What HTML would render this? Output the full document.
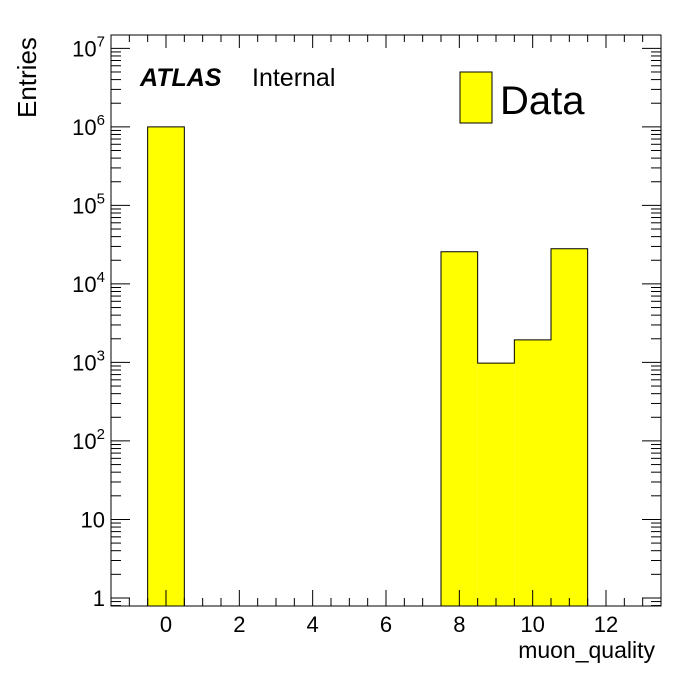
<!DOCTYPE html>
<html><head><meta charset="utf-8">
<style>
html,body{margin:0;padding:0;background:#fff;}
svg text{font-family:"Liberation Sans",sans-serif;}
</style></head>
<body>
<svg id="chart" width="696" height="672" xmlns="http://www.w3.org/2000/svg">
<rect x="0" y="0" width="696" height="672" fill="#fff"/>
<g id="bars"></g>
<g id="axes"></g>
<rect x="111" y="35" width="550" height="571" fill="none" stroke="#000" stroke-width="1"/>
<text x="0" y="0" transform="translate(36,118) rotate(-90)" font-size="26" text-anchor="start">Entries</text>
<text x="655" y="658" font-size="23" text-anchor="end">muon_quality</text>
<text x="140" y="86" font-size="25" font-weight="bold" font-style="italic">ATLAS</text>
<text x="252" y="86" font-size="25">Internal</text>
<rect x="460" y="72" width="32" height="51" fill="#ffff00" stroke="#000" stroke-width="1"/>
<text x="500" y="114" font-size="40">Data</text>
</svg>
<script>
const binLow = [-0.5, 7.5, 8.5, 9.5, 10.5];
const binHigh = [0.5, 8.5, 9.5, 10.5, 11.5];
const counts = [1000000, 25700, 980, 1940, 28000];
const xTicks = [0, 2, 4, 6, 8, 10, 12];
const yDecades = [0, 1, 2, 3, 4, 5, 6, 7];
const yLabels = ["1", "10", "10<sup>2</sup>", "10<sup>3</sup>", "10<sup>4</sup>", "10<sup>5</sup>", "10<sup>6</sup>", "10<sup>7</sup>"];

const NS = "http://www.w3.org/2000/svg";
const L = 111, R = 661, T = 35, B = 606;
const xMin = -1.5, xMax = 13.5;
const yMinLog = Math.log10(0.79), yMaxLog = 7.17;
function xs(v){ return L + (v - xMin) / (xMax - xMin) * (R - L); }
function ys(v){ return B - (Math.log10(v) - yMinLog) / (yMaxLog - yMinLog) * (B - T); }
function mk(tag, attrs, parent){ const e = document.createElementNS(NS, tag); for (const k in attrs) e.setAttribute(k, attrs[k]); parent.appendChild(e); return e; }

const bars = document.getElementById('bars');
// filled area
for (let i = 0; i < counts.length; i++) {
  const r = mk('rect', {x: xs(binLow[i]), y: ys(counts[i]), width: xs(binHigh[i]) - xs(binLow[i]), height: B - ys(counts[i]), fill: '#ffff00'}, bars);
  
  
}
// outline
let d = '';
for (let i = 0; i < counts.length; i++) {
  const x0 = xs(binLow[i]), x1 = xs(binHigh[i]), y = ys(counts[i]);
  const prevContig = i > 0 && binHigh[i-1] === binLow[i];
  const nextContig = i < counts.length - 1 && binLow[i+1] === binHigh[i];
  if (!prevContig) d += `M${x0},${B}L${x0},${y}`; else d += `L${x0},${y}`;
  d += `L${x1},${y}`;
  if (!nextContig) d += `L${x1},${B}`;
}
const outline = mk('path', {d: d, fill: 'none', stroke: '#000', 'stroke-width': 1}, bars);



const axes = document.getElementById('axes');
// x ticks
for (let v = -1.5; v <= 13.5001; v += 0.5) {
  const x = xs(v);
  const major = Math.abs(v - Math.round(v / 2) * 2) < 1e-6;
  const len = major ? 16 : 8;
  mk('line', {x1: x, y1: B, x2: x, y2: B - len, stroke: '#000'}, axes);
  mk('line', {x1: x, y1: T, x2: x, y2: T + (major ? 13 : 7), stroke: '#000'}, axes);
}
xTicks.forEach(v => {
  const t = mk('text', {x: xs(v), y: 632, 'font-size': 22, 'text-anchor': 'middle'}, axes);
  t.textContent = String(v);
  
  
});
// y ticks
for (let dec = -1; dec <= 7; dec++) {
  for (let m = 1; m <= 9; m++) {
    const v = m * Math.pow(10, dec);
    const lv = Math.log10(v);
    if (lv < yMinLog || lv > yMaxLog) continue;
    const y = ys(v);
    const len = m === 1 ? 19 : 10;
    mk('line', {x1: L, y1: y, x2: L + len, y2: y, stroke: '#000'}, axes);
    mk('line', {x1: R, y1: y, x2: R - len, y2: y, stroke: '#000'}, axes);
  }
}
yDecades.forEach((p, i) => {
  const y = ys(Math.pow(10, p));
  const t = mk('text', {x: 105, y: y + 8, 'font-size': 22, 'text-anchor': 'end'}, axes);
  
  
  if (p <= 1) { t.textContent = p === 0 ? '1' : '10'; }
  else {
    const b = mk('tspan', {}, t); b.textContent = '10';
    const s = mk('tspan', {dy: -10, 'font-size': 15}, t); s.textContent = String(p);
  }
});
</script>
</body></html>
